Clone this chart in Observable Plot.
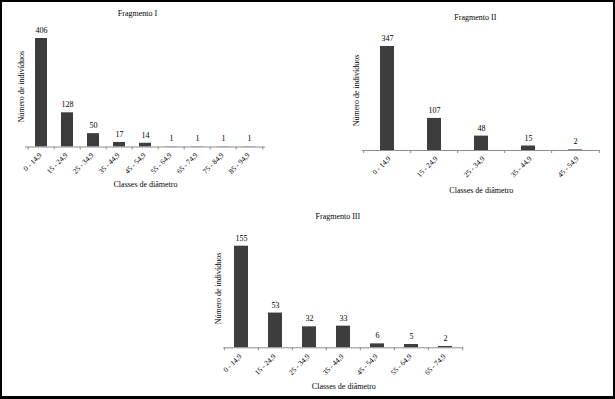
<!DOCTYPE html>
<html><head><meta charset="utf-8">
<script src="https://cdn.jsdelivr.net/npm/d3@7"></script>
<script src="https://cdn.jsdelivr.net/npm/@observablehq/plot@0.6"></script>
<style>
html,body{margin:0;padding:0;background:#fff;}
#frame{position:relative;width:615px;height:399px;box-sizing:border-box;border:2px solid #000;border-bottom-width:3px;background:#fff;overflow:hidden;}
#frame svg{position:absolute;overflow:visible;}
</style></head><body><div id="frame"></div>
<script>
const classesI = ["0 - 14,9","15 - 24,9","25 - 34,9","35 - 44,9","45 - 54,9","55 - 64,9","65 - 74,9","75 - 84,9","85 - 94,9"];
const valuesI = [406,128,50,17,14,1,1,1,1];
const classesII = ["0 - 14,9","15 - 24,9","25 - 34,9","35 - 44,9","45 - 54,9"];
const valuesII = [347,107,48,15,2];
const classesIII = ["0 - 14,9","15 - 24,9","25 - 34,9","35 - 44,9","45 - 54,9","55 - 64,9","65 - 74,9"];
const valuesIII = [155,53,32,33,6,5,2];
const titles = ["Fragmento I","Fragmento II","Fragmento III"];
const xLabel = "Classes de diâmetro";
const yLabel = "Número de indivíduos";

const FONT = "'Liberation Serif','Times New Roman',serif";
const BAR = "#3d3d3d";
const AXIS = "#8c8c8c";

function panel(o) {
  const data = o.cats.map((c, i) => ({c, v: o.vals[i]}));
  const n = o.cats.length;
  const step = (o.width - o.ml - o.mr) / n;
  const svg = Plot.plot({
    width: o.width, height: o.height,
    marginLeft: o.ml, marginRight: o.mr, marginTop: o.mt, marginBottom: o.mb,
    style: {fontFamily: FONT, fontSize: "8px", color: "#000", background: "transparent", overflow: "visible"},
    x: {domain: o.cats, paddingInner: o.pad, paddingOuter: o.pad / 2, axis: null},
    y: {domain: [0, d3.max(o.vals)], axis: null},
    marks: [
      Plot.barY(data, {x: "c", y: "v", fill: BAR}),
      Plot.ruleY([0], {stroke: AXIS}),
      Plot.ruleX(o.cats, {x: d => d, y1: 0, y2: 0, insetBottom: -3, dx: -step / 2, stroke: AXIS}),
      Plot.ruleX([o.cats[n - 1]], {x: d => d, y1: 0, y2: 0, insetBottom: -3, dx: step / 2, stroke: AXIS}),
      Plot.text(data, {x: "c", y: "v", text: d => String(d.v), dy: -8, fill: "#000", lineAnchor: "middle", textAnchor: "middle"}),
      Plot.text(o.cats, {x: d => d, text: d => d, frameAnchor: "bottom", rotate: -45, textAnchor: "end", lineAnchor: "middle", fontSize: 7.3, dx: o.tickDx, dy: o.tickDy, fill: "#000"}),
      Plot.text([o.title], {text: d => d, frameAnchor: "top", textAnchor: "middle", lineAnchor: "middle", dx: o.titleDx, dy: o.titleDy, fill: "#000"}),
      Plot.text([xLabel], {text: d => d, frameAnchor: "bottom", textAnchor: "middle", lineAnchor: "middle", dy: o.xDy, fill: "#000"}),
      Plot.text([yLabel], {text: d => d, frameAnchor: "left", rotate: -90, textAnchor: "middle", lineAnchor: "middle", dx: o.yDx, dy: o.yDy, fill: "#000"})
    ]
  });
  svg.style.left = (o.left - 2) + "px";
  svg.style.top = (o.top - 2) + "px";
  document.getElementById("frame").appendChild(svg);
}

panel({cats: classesI, vals: valuesI, title: titles[0], left: 0, top: 0, width: 300, height: 200,
  ml: 25, mr: 35, mt: 38, mb: 53.5, pad: 0.52, tickDx: -1, tickDy: 7,
  titleDx: -8, titleDy: -25, xDy: 37, yDx: -4, yDy: -6});
panel({cats: classesII, vals: valuesII, title: titles[1], left: 330, top: 0, width: 285, height: 200,
  ml: 31.7, mr: 15, mt: 46, mb: 50, pad: 0.71, tickDx: 2, tickDy: 7,
  titleDx: -6, titleDy: -29, xDy: 39.5, yDx: -5.7, yDy: -8});
panel({cats: classesIII, vals: valuesIII, title: titles[2], left: 180, top: 200, width: 300, height: 199,
  ml: 43.3, mr: 16.6, mt: 45.7, mb: 51.7, pad: 0.59, tickDx: -1, tickDy: 7.5,
  titleDx: -6, titleDy: -30, xDy: 39, yDx: -5, yDy: -8.5});
</script>
</body></html>
